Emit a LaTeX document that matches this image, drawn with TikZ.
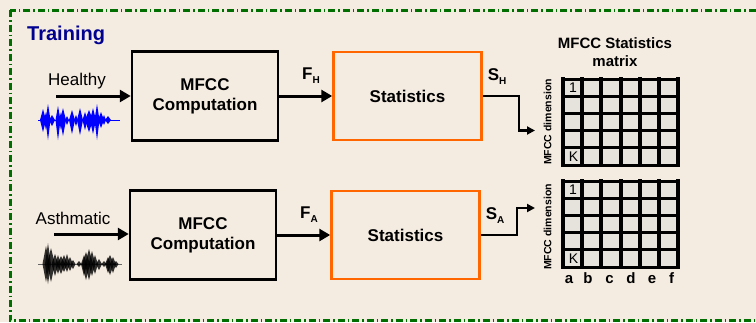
\documentclass[tikz,border=0pt]{standalone}
\usepackage{fontspec}
\setmainfont{Liberation Sans}
\usetikzlibrary{arrows.meta,positioning,calc}
\definecolor{paper}{RGB}{245,236,225}
\definecolor{framegreen}{RGB}{0,110,0}
\definecolor{titleblue}{RGB}{0,0,145}
\definecolor{statorange}{RGB}{255,102,0}
\definecolor{cellgray}{RGB}{230,226,220}
\tikzset{
  mfccbox/.style = {draw, line width=2.5pt, minimum width=146pt, minimum height=89pt, align=center, font=\bfseries\fontsize{17}{20}\selectfont},
  statbox/.style = {mfccbox, draw=statorange, minimum width=148pt, minimum height=88pt},
  trans/.style = {-{Triangle[length=11pt,width=12pt]}, line width=3pt},
  outtrans/.style = {-{Triangle[length=8pt,width=8pt]}, line width=2.5pt},
  siglabel/.style = {anchor=base, inner sep=0pt, font=\fontsize{17}{20}\selectfont},
  varlabel/.style = {inner sep=1pt, font=\bfseries\fontsize{17}{20}\selectfont},
  mattitle/.style = {align=center, font=\bfseries\fontsize{15}{18}\selectfont},
  dimlabel/.style = {rotate=90, inner sep=0pt, font=\bfseries\fontsize{10.5}{12}\selectfont},
  cellmark/.style = {inner sep=0pt, font=\fontsize{14}{14}\selectfont},
  collabel/.style = {anchor=base, inner sep=0pt, font=\bfseries\fontsize{15}{15}\selectfont},
  frame/.style = {draw=framegreen, line width=3pt, dash pattern=on 7pt off 3pt on 1.5pt off 3pt}
  }
\newcommand{\varsub}[2]{#1\raisebox{-4pt}{\fontsize{10}{10}\selectfont #2}}

\begin{document}
\begin{tikzpicture}[x=1pt,y=-1pt]
\useasboundingbox (0,0) rectangle (756,322);
\fill[paper] (0,0) rectangle (756,322);
\begin{scope}
\clip (0,0) rectangle (756,322);
\draw[frame] (10,10) rectangle (790,320.5);
\end{scope}
\node[anchor=base west, inner sep=0pt, text=titleblue, font=\bfseries\fontsize{20}{24}\selectfont] (training) at (27,40.7) {Training};

% processing chains
\node[mfccbox] (mfcch) at (205,96) {MFCC\\Computation};
\node[statbox,right=53pt of mfcch] (stath) {Statistics};
\node[mfccbox] (mfcca) at (203,235) {MFCC\\Computation};
\node[statbox,right=53pt of mfcca] (stata) {Statistics};

\node[siglabel] (healthy) at (77,85) {Healthy};
\node[siglabel] (asthmatic) at (73,224) {Asthmatic};
\coordinate (srch) at (56,96);
\coordinate (srca) at (54,234);

% waveforms
\draw[blue, line width=0.8pt] (38,120) -- (120,120);
\foreach \x/\u/\d/\w in {43/11/12/3, 46/8/10/2, 48/16/20/2.5, 52/5/6/3, 58/14/20/2.5, 61/8/10/2, 63/12/16/3, 67/4/5/2,
  72/10/14/3, 76/5/6/2, 80/12/15/3, 85/8/10/2.5, 89/10/12/4, 93/12/14/3, 97/16/20/2.5, 101/8/8/3, 104/5/5/2, 108/4/4/3}
  \fill[blue] (\x,120-\u) -- (\x+\w,120) -- (\x,120+\d) -- (\x-\w,120) -- cycle;
\draw[black!60, line width=0.6pt] (38,264) -- (122,264);
\foreach \x/\u/\d/\w in {46/18/18/3.5, 48/21/20/3, 51/16/18/4, 55/10/12/3.5, 58/9/10/3, 61/8/10/4, 64/9/8/3.5, 67/10/8/3,
  70/7/7/3, 73/4/5/2.5, 79/3/3/2.5, 84/9/12/3, 86/12/16/4, 89/15/16/4, 92/13/12/3.5, 95/9/10/3, 99/5/6/3, 104/3/3/2.5,
  108/7/9/3, 110/9/11/4, 113/7/9/3, 116/3/4/2.5}
  \fill[black, fill opacity=0.8] (\x,264-\u) -- (\x+\w,264) -- (\x,264+\d) -- (\x-\w,264) -- cycle;

% statistics matrices
\node[mattitle] (mtitle) at (615,52) {MFCC Statistics\\matrix};
\foreach \mat/\my in {h/79, a/181} {
  \fill[cellgray] (563,\my) rectangle (678,\my+86);
  \foreach \i in {0,...,6}
    \draw[line width=4pt, line cap=rect] (563+\i*19.17,\my) -- ++(0,86);
  \foreach \j in {0,...,5}
    \draw[line width=3pt, line cap=rect] (563,\my+\j*17.2) -- ++(115,0);
  \node[cellmark] (one\mat) at (573,\my+8.8) {1};
  \node[cellmark] (k\mat) at (573.5,\my+77.6) {K};
}
\node[dimlabel] (dimh) at (547.5,122) {MFCC dimension};
\node[dimlabel] (dima) at (547.5,227) {MFCC dimension};
\foreach \l/\x in {a/569, b/588, c/609.5, d/631, e/652, f/671.5}
  \node[collabel] (col\l) at (\x,283) {\l};
\coordinate (inh) at (535,130.5);
\coordinate (ina) at (535,208);

\draw[trans] (srch) -- (mfcch.west |- srch);
\draw[trans] (srca) -- (mfcca.west |- srca);
\draw[trans] (mfcch) -- node[varlabel,above=10pt,pos=0.6] {\varsub{F}{H}} (stath);
\draw[trans] (mfcca) -- node[varlabel,above=10pt,pos=0.6] {\varsub{F}{A}} (stata);
\draw[outtrans] (stath.east) -- node[varlabel,above=9pt,pos=0.4] {\varsub{S}{H}} ++(36,0) |- (inh);
\draw[outtrans] (stata.east) -- node[varlabel,above=9pt,pos=0.4] {\varsub{S}{A}} ++(36,0) |- (ina);
\end{tikzpicture}
\end{document}
